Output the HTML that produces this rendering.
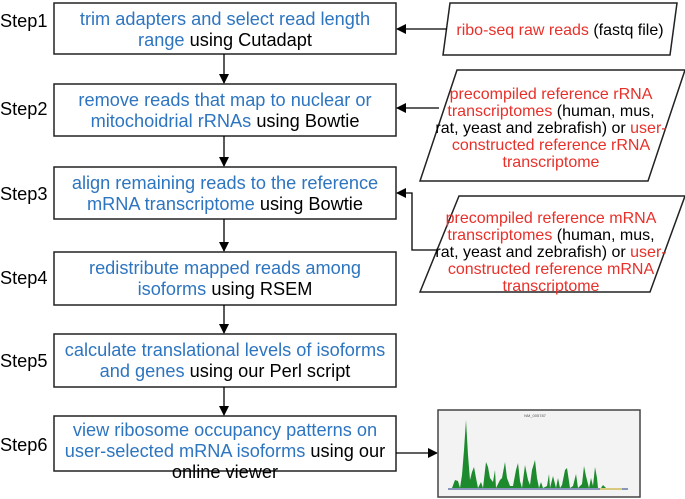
<!DOCTYPE html>
<html><head><style>body{margin:0;background:#fff}svg{display:block}</style></head><body>
<svg width="685" height="499" viewBox="0 0 685 499" xmlns="http://www.w3.org/2000/svg" font-family="Liberation Sans, sans-serif" font-size="18.2">
<defs><marker id="a" markerWidth="10" markerHeight="10" refX="9" refY="5" orient="auto" markerUnits="userSpaceOnUse"><path d="M0,0 L10,5 L0,10 z" fill="#000"/></marker></defs>
<g fill="none" stroke="#222" stroke-width="1.5">
<rect x="54" y="3" width="342" height="51"/>
<rect x="54" y="84" width="342" height="52"/>
<rect x="54" y="167" width="342" height="52"/>
<rect x="54" y="252" width="342" height="53"/>
<rect x="54" y="334" width="342" height="53"/>
<rect x="54" y="416" width="342" height="55"/>
<path d="M450,3 L677,3 L670,55 L443,55 Z"/>
<path d="M457,70 L685,70 L648,181 L420,181 Z"/>
<path d="M459,196 L685,196 L650,292 L420,292 Z"/>
<g stroke="#000" stroke-width="1.3">
<line x1="224" y1="54" x2="224" y2="83" marker-end="url(#a)"/>
<line x1="224" y1="136" x2="224" y2="166" marker-end="url(#a)"/>
<line x1="224" y1="219" x2="224" y2="251" marker-end="url(#a)"/>
<line x1="224" y1="305" x2="224" y2="333" marker-end="url(#a)"/>
<line x1="224" y1="387" x2="224" y2="415" marker-end="url(#a)"/>
<line x1="447" y1="29" x2="397" y2="29" marker-end="url(#a)"/>
<line x1="439" y1="108" x2="397" y2="108" marker-end="url(#a)"/>
<polyline points="437,250 412,250 412,193 397,193" marker-end="url(#a)"/>
<line x1="396" y1="453" x2="437" y2="453" marker-end="url(#a)"/>
</g>
</g>
<g fill="#000">
<text x="0" y="27">Step1</text><text x="0" y="115">Step2</text><text x="0" y="200">Step3</text>
<text x="0" y="284">Step4</text><text x="0" y="367">Step5</text><text x="0" y="451">Step6</text>
</g>
<g text-anchor="middle" fill="#2e75c0">
<text x="225" y="25">trim adapters and select read length</text>
<text x="225" y="46">range <tspan fill="#000">using Cutadapt</tspan></text>
<text x="225" y="106">remove reads that map to nuclear or</text>
<text x="225" y="127">mitochoidrial rRNAs <tspan fill="#000">using Bowtie</tspan></text>
<text x="225" y="189">align remaining reads to the reference</text>
<text x="225" y="210">mRNA transcriptome <tspan fill="#000">using Bowtie</tspan></text>
<text x="225" y="274">redistribute mapped reads among</text>
<text x="225" y="295">isoforms <tspan fill="#000">using RSEM</tspan></text>
<text x="225" y="356">calculate translational levels of isoforms</text>
<text x="225" y="377">and genes <tspan fill="#000">using our Perl script</tspan></text>
<text x="225" y="436">view ribosome occupancy patterns on</text>
<text x="225" y="457">user-selected mRNA isoforms <tspan fill="#000">using our</tspan></text>
<text x="225" y="478" fill="#000">online viewer</text>
</g>
<g text-anchor="middle" fill="#e8302a" font-size="16">
<text x="560" y="35">ribo-seq raw reads <tspan fill="#000">(fastq file)</tspan></text>
<text x="551" y="99">precompiled reference rRNA</text>
<text x="551" y="116">transcriptomes <tspan fill="#000">(human, mus,</tspan></text>
<text x="551" y="133"><tspan fill="#000">rat, yeast and zebrafish) or </tspan>user-</text>
<text x="551" y="150">constructed reference rRNA</text>
<text x="551" y="167">transcriptome</text>
<text x="551" y="223">precompiled reference mRNA</text>
<text x="551" y="240">transcriptomes <tspan fill="#000">(human, mus,</tspan></text>
<text x="551" y="257"><tspan fill="#000">rat, yeast and zebrafish) or </tspan>user-</text>
<text x="551" y="274">constructed reference mRNA</text>
<text x="551" y="291">transcriptome</text>
</g>
<rect x="438" y="410" width="202" height="87" fill="#f3f3f3" stroke="#444" stroke-width="1.5"/>
<text x="535" y="417" font-size="4" text-anchor="middle" fill="#555">NM_005787</text>
<polygon fill="#1e8a2e" points="452,488 455,480 458,481 460,488 462,475 464,450 466,420 468,455 470,480 472,472 474,467 476,478 478,488 481,482 483,488 486,462 488,467 490,478 493,482 495,470 496,488 500,480 502,478 505,462 507,478 510,486 513,486 516,470 518,463 520,481 522,488 525,465 528,480 530,485 532,470 535,460 537,478 539,488 541,482 543,488 547,486 549,474 550,488 553,476 556,488 558,478 560,488 562,485 565,470 567,468 570,488 573,486 576,474 578,488 582,484 584,466 586,476 589,488 591,478 593,486 595,467 597,478 598,488 601,488 603,485 606,488"/>
<line x1="448" y1="489" x2="628" y2="489" stroke="#6677aa" stroke-width="1.5"/>
<line x1="600" y1="489" x2="622" y2="489" stroke="#e8d060" stroke-width="1.5"/>
</svg>
</body></html>
